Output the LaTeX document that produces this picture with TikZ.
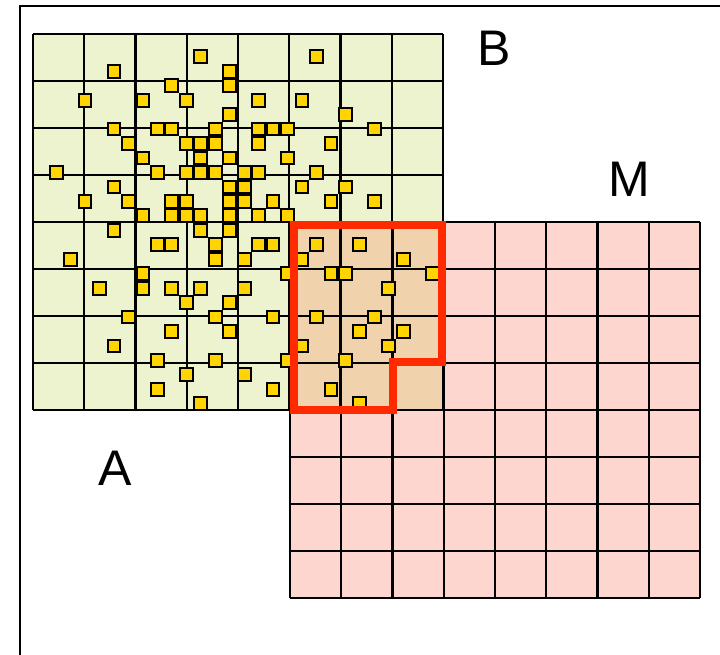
\documentclass[tikz,border=0pt]{standalone}
\usepackage{fontspec}
\setmainfont{Liberation Sans}
\definecolor{greenfill}{HTML}{EDF3CF}
\definecolor{pinkfill}{HTML}{FCD6CF}
\definecolor{overlapfill}{HTML}{F0D2AC}
\definecolor{sqyellow}{HTML}{FFD400}
\definecolor{outlinered}{HTML}{FF2A00}
\begin{document}
\begin{tikzpicture}[x=1pt,y=-1pt,
  gridline/.style={line width=2.2pt, draw=black},
  framestyle/.style={line width=2pt, draw=black},
  sq/.style={draw=black, line width=2pt, fill=sqyellow, minimum size=12.8pt, inner sep=0pt, outer sep=0pt},
  regionline/.style={draw=outlinered, line width=7.5pt, line join=miter},
  lbl/.style={font=\fontsize{50}{60}\selectfont, inner sep=0pt, text=black}]
\useasboundingbox (0,0) rectangle (720,654);
\fill[white] (0,0) rectangle (720,654);
% frame
\draw[framestyle] (20,660) -- (20,6) -- (725,6);
% fills
\fill[greenfill] (33,34) rectangle (443,410);
\fill[pinkfill] (290,222) rectangle (700,598);
\fill[overlapfill] (290,222) rectangle (443,410);
% grids
\foreach \k in {0,...,8} {
  \draw[gridline] ({33+51.25*\k},34) -- ({33+51.25*\k},410);
  \draw[gridline] (33,{34+47*\k}) -- (443,{34+47*\k});
  \draw[gridline] ({290+51.25*\k},222) -- ({290+51.25*\k},598);
  \draw[gridline] (290,{222+47*\k}) -- (700,{222+47*\k});
}
% yellow squares
\foreach \j/\lst in {1/{11,19}, 2/{5,13}, 3/{9,13}, 4/{3,7,10,15,18}, 5/{13,21},
  6/{5,8,9,12,15,16,17,23}, 7/{6,10,11,12,15,20}, 8/{7,11,13,17},
  9/{1,8,10,11,12,14,15,19}, 10/{5,13,14,18,21}, 11/{3,6,9,10,13,14,16,20,23},
  12/{7,9,10,11,13,15,17}, 13/{5,11,13}, 14/{8,9,12,15,16,19,22},
  15/{2,12,14,18,25}, 16/{7,17,20,21,27}, 17/{4,7,9,11,14,24}, 18/{10,13},
  19/{6,12,16,19,23}, 20/{9,13,22,25}, 21/{5,18,24}, 22/{8,12,17,21},
  23/{10,14}, 24/{8,16,20}, 25/{11,22}} {
  \foreach \i in \lst {
    \node[sq] (s\i-\j) at ({41.7+14.46*\i},{42.3+14.46*\j}) {};
  }
}
% red outline
\draw[regionline] (294,225) -- (442,225) -- (442,362) -- (393,362) -- (393,410) -- (294,410) -- cycle;
% labels
\node[lbl] (B) at (494,48.5) {B};
\node[lbl] (M) at (629.5,179) {M};
\node[lbl] (A) at (115.5,468) {A};
\end{tikzpicture}
\end{document}
